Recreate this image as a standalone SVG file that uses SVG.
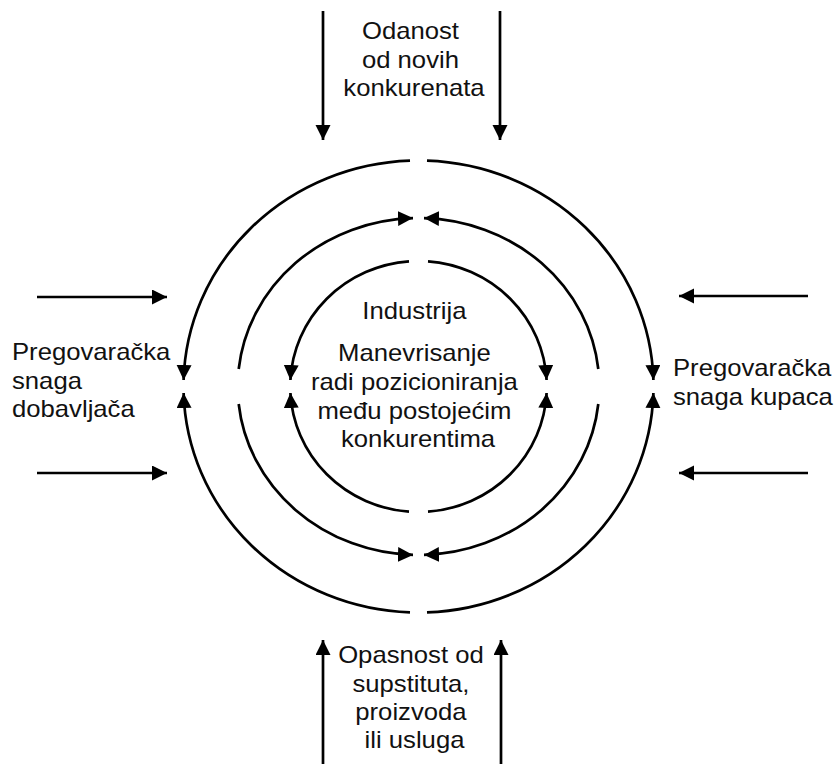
<svg xmlns="http://www.w3.org/2000/svg" width="837" height="764" viewBox="0 0 837 764">
  <defs>
    <marker id="head" markerUnits="userSpaceOnUse" markerWidth="17" markerHeight="17" refX="15" refY="7.5" orient="auto">
      <path d="M0,0 L15,7.5 L0,15 Z" fill="#000"/>
    </marker>
    <style>
      .arrow { fill: none; stroke: #000; stroke-width: 2.7; marker-end: url(#head); }
      .label { font-family: "Liberation Sans", Arial, Helvetica, sans-serif; font-size: 24px; fill: #111; }
      .mid { text-anchor: middle; }
    </style>
  </defs>

  <rect width="837" height="764" fill="#fff"/>

  <g id="connectors">
    <!-- outer ring: four quarters meeting at left and right -->
    <path class="arrow" d="M410,160.6 A235,226 0 0 0 183.6,380"/>
    <path class="arrow" d="M410,612.4 A235,226 0 0 1 183.6,393"/>
    <path class="arrow" d="M427,160.6 A235,226 0 0 1 653.4,380"/>
    <path class="arrow" d="M427,612.4 A235,226 0 0 0 653.4,393"/>

    <!-- middle ring: quarters meeting at top and bottom -->
    <path class="arrow" d="M238.7,369 A180.8,168.5 0 0 1 413,218.1"/>
    <path class="arrow" d="M598.3,369 A180.8,168.5 0 0 0 424,218.1"/>
    <path class="arrow" d="M238.7,404 A180.8,168.5 0 0 0 413,554.9"/>
    <path class="arrow" d="M598.3,404 A180.8,168.5 0 0 1 424,554.9"/>

    <!-- inner ring: quarters meeting at left and right -->
    <path class="arrow" d="M409,261.3 A128.3,125.5 0 0 0 290.4,380"/>
    <path class="arrow" d="M409,511.7 A128.3,125.5 0 0 1 290.4,393"/>
    <path class="arrow" d="M428,261.3 A128.3,125.5 0 0 1 546.6,380"/>
    <path class="arrow" d="M428,511.7 A128.3,125.5 0 0 0 546.6,393"/>

    <!-- incoming forces -->
    <path class="arrow" d="M323,11 L323,140"/>
    <path class="arrow" d="M500,11 L500,140"/>
    <path class="arrow" d="M323,764 L323,640"/>
    <path class="arrow" d="M501,764 L501,640"/>
    <path class="arrow" d="M37,297 L167,297"/>
    <path class="arrow" d="M37,473 L167,473"/>
    <path class="arrow" d="M808,296 L679,296"/>
    <path class="arrow" d="M808,473 L679,473"/>
  </g>

  <g id="new-entrants">
    <text class="label mid" transform="translate(414 0) scale(1.07 1)">
      <tspan x="0" y="39">Odanost</tspan>
      <tspan x="0" y="68">od novih</tspan>
      <tspan x="0" y="96.5">konkurenata</tspan>
    </text>
  </g>

  <g id="suppliers">
    <text class="label" transform="translate(12 0) scale(1.07 1)">
      <tspan x="0" y="360">Pregovaračka</tspan>
      <tspan x="0" y="389">snaga</tspan>
      <tspan x="0" y="417">dobavljača</tspan>
    </text>
  </g>

  <g id="buyers">
    <text class="label" transform="translate(673 0) scale(1.07 1)">
      <tspan x="0" y="376">Pregovaračka</tspan>
      <tspan x="0" y="405">snaga kupaca</tspan>
    </text>
  </g>

  <g id="industry">
    <text class="label mid" transform="translate(418 0) scale(1.07 1)">
      <tspan x="0" y="319">Industrija</tspan>
      <tspan x="0" y="361">Manevrisanje</tspan>
      <tspan x="0" y="390">radi pozicioniranja</tspan>
      <tspan x="0" y="419">među postojećim</tspan>
      <tspan x="0" y="447">konkurentima</tspan>
    </text>
  </g>

  <g id="substitutes">
    <text class="label mid" transform="translate(414.5 0) scale(1.07 1)">
      <tspan x="0" y="663">Opasnost od</tspan>
      <tspan x="0" y="692">supstituta,</tspan>
      <tspan x="0" y="720">proizvoda</tspan>
      <tspan x="0" y="748">ili usluga</tspan>
    </text>
  </g>
</svg>
